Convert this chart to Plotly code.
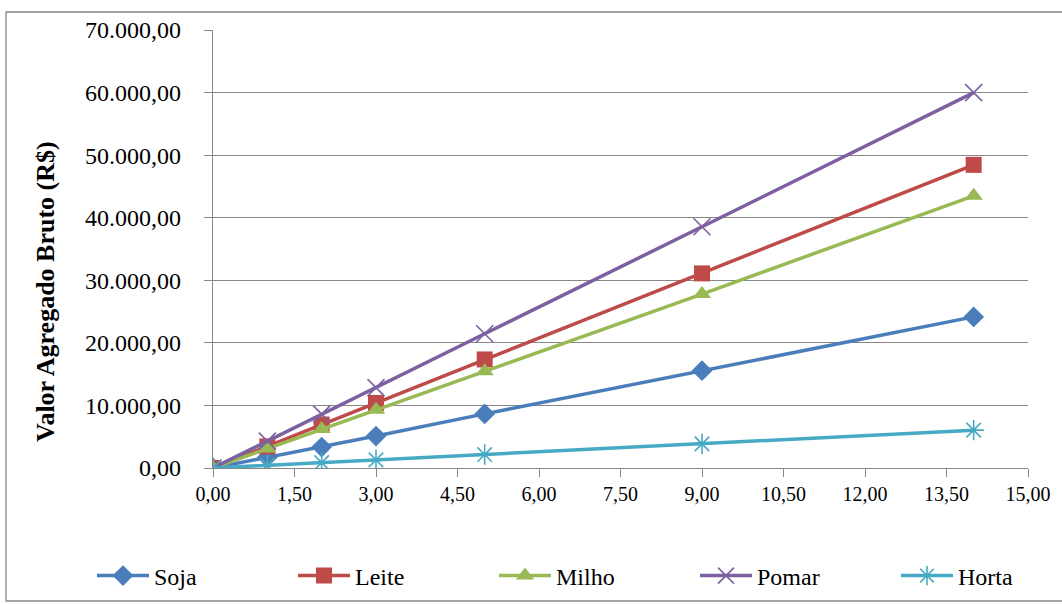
import plotly.graph_objects as go

# Área (ha) e valor agregado bruto (R$) por atividade
area = [0, 1, 2, 3, 5, 9, 14]
soja = [0, 1700, 3350, 5100, 8650, 15550, 24150]
leite = [0, 3450, 6950, 10400, 17350, 31100, 48450]
milho = [0, 3100, 6250, 9300, 15450, 27800, 43500]
pomar = [0, 4300, 8600, 12850, 21450, 38550, 60000]
horta = [0, 430, 860, 1300, 2150, 3850, 6050]

x_ticks = [0, 1.5, 3, 4.5, 6, 7.5, 9, 10.5, 12, 13.5, 15]

series = [
    ("Soja", soja, "#4A7EBB", dict(symbol="diamond", size=16)),
    ("Leite", leite, "#BE4B48", dict(symbol="square", size=16)),
    ("Milho", milho, "#98B954", dict(symbol="triangle-up", size=16)),
    ("Pomar", pomar, "#7D60A0", dict(symbol="x-thin-open", size=17, line=dict(width=1.6))),
    ("Horta", horta, "#46AAC5", dict(symbol="asterisk-open", size=17, line=dict(width=1.6))),
]

fig = go.Figure()
for name, vals, color, mk in series:
    marker = dict(color=color, **mk)
    if "line" in mk:
        marker["line"] = dict(color=color, width=mk["line"]["width"])
    fig.add_trace(go.Scatter(
        x=area, y=vals, name=name, mode="lines+markers",
        line=dict(color=color, width=3.5),
        marker=marker,
    ))

W, H = 1062, 604
L, R, T, B = 213, 34, 30, 136
pw, ph = W - L - R, H - T - B

def px_x(p):
    return (p - L) / pw

def px_y(p):
    return (H - B - p) / ph

serif = "Liberation Serif"

fig.update_layout(
    width=W, height=H,
    margin=dict(l=L, r=R, t=T, b=B, autoexpand=False),
    paper_bgcolor="white", plot_bgcolor="white",
    separators=",.",
    font=dict(family=serif, color="black"),
    showlegend=True,
    legend=dict(
        orientation="h", xref="paper", yref="paper",
        x=px_x(92), xanchor="left", y=px_y(576), yanchor="middle",
        entrywidth=134, entrywidthmode="pixels",
        font=dict(size=24, family=serif, color="black"), itemwidth=52,
        bgcolor="rgba(0,0,0,0)",
    ),
    xaxis=dict(
        range=[0, 15], tickvals=x_ticks, tickformat=".2f",
        showgrid=False, zeroline=False,
        showline=True, linecolor="#878787", linewidth=1.3,
        ticks="outside", ticklen=8, tickcolor="#878787",
        tickfont=dict(size=20, family=serif),
    ),
    yaxis=dict(
        range=[0, 70000], dtick=10000, tickformat=",.2f",
        ticksuffix="\u00a0\u00a0\u00a0",
        showgrid=True, gridcolor="#878787", gridwidth=1.3,
        zeroline=False, showline=True, linecolor="#878787", linewidth=1.3,
        ticks="outside", ticklen=8, tickcolor="#878787",
        tickfont=dict(size=24, family=serif),
    ),
    annotations=[dict(
        text="<b>Valor Agregado Bruto (R$)</b>", textangle=-90,
        xref="paper", yref="paper", x=px_x(45), y=px_y(292),
        xanchor="center", yanchor="middle",
        showarrow=False, font=dict(size=26, family=serif),
    )],
    shapes=[dict(
        type="rect", xref="paper", yref="paper",
        x0=px_x(6), x1=px_x(1070), y0=px_y(601), y1=px_y(12),
        line=dict(color="#878787", width=1.3), fillcolor="rgba(0,0,0,0)",
        layer="below",
    )],
)

fig.write_html("out.html")
